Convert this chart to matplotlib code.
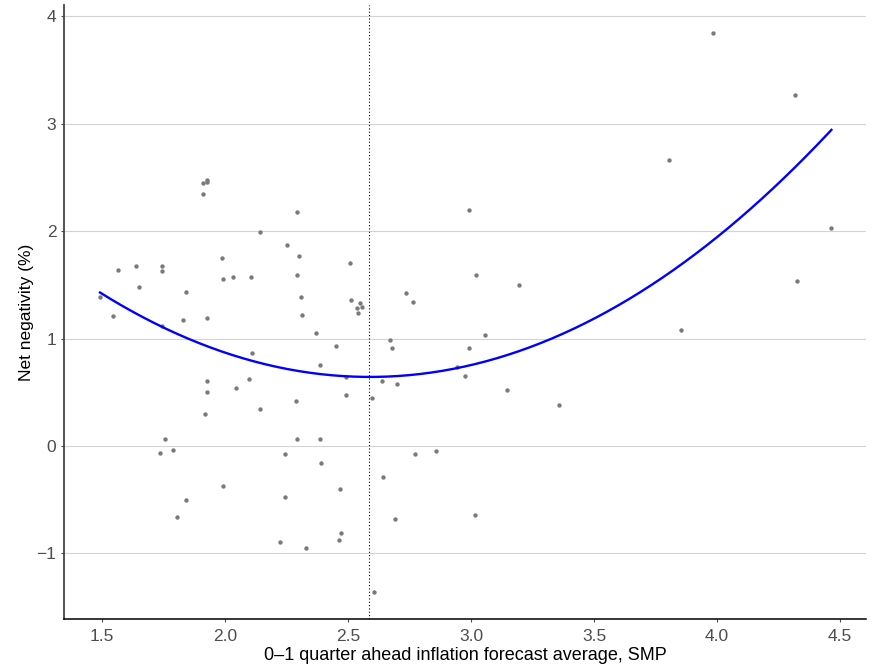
import numpy as np
import matplotlib
matplotlib.use("Agg")
import matplotlib.pyplot as plt

plt.rcParams['font.family'] = ['Liberation Sans', 'DejaVu Sans']

# ------------------------------------------
# data
# ------------------------------------------
forecast = [1.492, 1.543, 1.566, 1.638, 1.652, 1.743, 1.743, 1.743, 1.841, 1.828,
            1.909, 1.927, 1.927, 1.909, 1.927, 1.927, 1.927, 1.988, 1.993, 2.033,
            2.104, 2.043, 2.099, 2.108, 2.142, 2.142, 2.251, 2.291, 2.300, 2.293,
            2.308, 2.313, 2.289, 2.369, 2.388, 2.450, 2.490, 2.490, 2.507, 2.511,
            2.535, 2.549, 2.556, 2.541, 1.917, 2.598, 2.638, 2.699, 1.756, 1.734,
            1.787, 2.293, 2.385, 2.244, 2.392, 2.774, 1.992, 2.642, 2.469, 1.843,
            2.244, 2.690, 1.806, 2.473, 2.462, 2.222, 2.329, 2.604, 2.993, 3.019,
            3.195, 2.736, 2.766, 2.669, 2.680, 3.057, 2.993, 2.942, 2.974, 3.146,
            3.359, 2.859, 3.016, 3.985, 4.316, 3.805, 4.465, 4.326, 3.852]

negativity = [1.390, 1.213, 1.639, 1.679, 1.483, 1.676, 1.629, 1.120, 1.431, 1.170,
              2.450, 2.477, 2.455, 2.350, 1.188, 0.608, 0.500, 1.754, 1.558, 1.571,
              1.577, 0.543, 0.624, 0.869, 1.993, 0.347, 1.874, 2.182, 1.766, 1.595,
              1.387, 1.223, 0.422, 1.049, 0.757, 0.928, 0.640, 0.475, 1.701, 1.362,
              1.282, 1.329, 1.297, 1.235, 0.298, 0.444, 0.605, 0.577, 0.065, -0.068,
              -0.037, 0.062, 0.065, -0.074, -0.158, -0.072, -0.372, -0.291, -0.400, -0.506,
              -0.475, -0.677, -0.658, -0.810, -0.872, -0.894, -0.947, -1.362, 2.197, 1.595,
              1.499, 1.427, 1.338, 0.987, 0.909, 1.037, 0.916, 0.733, 0.649, 0.518,
              0.385, -0.050, -0.643, 3.842, 3.268, 2.663, 2.026, 1.533, 1.077]

vline_x = 2.585

x = np.array(forecast)
y = np.array(negativity)

# quadratic fit
coef = np.polyfit(x, y, 2)
xs = np.linspace(x.min(), x.max(), 200)
ys = np.polyval(coef, xs)

# ------------------------------------------
# plot
# ------------------------------------------
fig = plt.figure(figsize=(8.78, 6.66), dpi=100)
ax = fig.add_axes([64 / 878, 1 - 619 / 666, (866 - 64) / 878, (619 - 5) / 666])

ax.grid(axis='y', color='#d4d4d4', linewidth=0.8)
ax.set_axisbelow(True)

ax.scatter(x, y, s=10, color='#7a7a7a', linewidths=0, zorder=2)
ax.plot(xs, ys, color='#0000ff', linewidth=1.7, zorder=3)
ax.axvline(vline_x, color='black', linestyle=(0, (1, 2)), linewidth=0.8, zorder=2)

ax.set_xlim(1.3455, 4.6056)
ax.set_ylim(-1.611, 4.106)
ax.set_xticks([1.5, 2.0, 2.5, 3.0, 3.5, 4.0, 4.5])
ax.set_yticks([-1, 0, 1, 2, 3, 4])
ax.set_yticklabels(['\u22121', '0', '1', '2', '3', '4'])

for side in ['top', 'right']:
    ax.spines[side].set_visible(False)
ax.spines['left'].set_color('#444444')
ax.spines['left'].set_linewidth(1.3)
ax.spines['bottom'].set_color('black')
ax.spines['bottom'].set_linewidth(1.1)

ax.tick_params(axis='both', labelsize=12.5, labelcolor='#4d4d4d', color='#4d4d4d',
               length=2.5, width=0.8)
ax.tick_params(axis='x', pad=5)
ax.tick_params(axis='y', pad=3)

ax.set_xlabel('0\u20131 quarter ahead inflation forecast average, SMP', fontsize=13, labelpad=2)
ax.set_ylabel('Net negativity (%)', fontsize=12.5, labelpad=1.5)

fig.savefig('out.png', dpi=100)
